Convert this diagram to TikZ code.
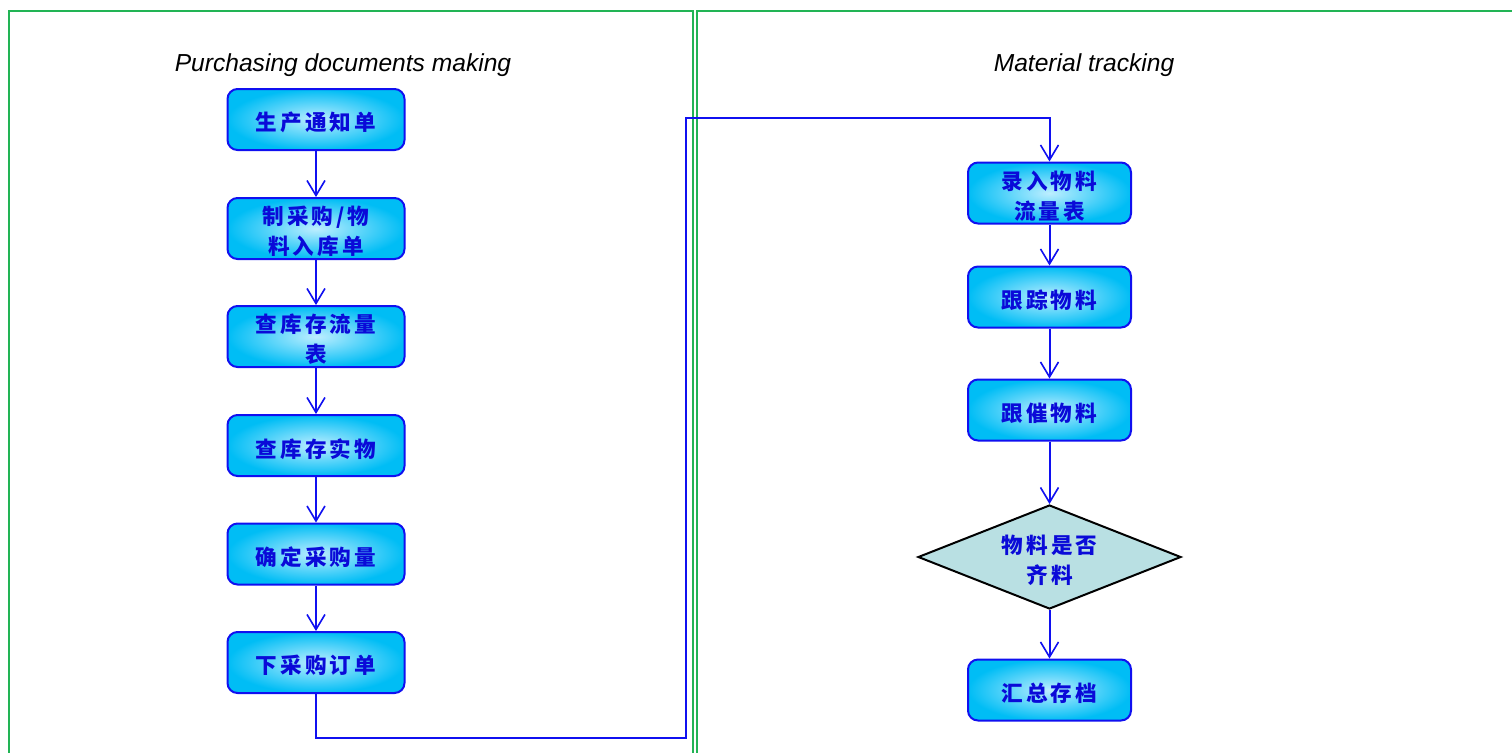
\documentclass[tikz,border=0pt]{standalone}
\usepackage{fontspec}
\setmainfont{Liberation Sans}
\newfontfamily\cjkf[LetterSpace=14]{Noto Sans CJK SC}
\usetikzlibrary{shapes.geometric,arrows.meta}
\newcommand\boxtxt[2][72pt]{\raisebox{-1.6pt}[\height][\depth]{\parbox[c]{#1}{\centering #2}}}
\definecolor{frameg}{HTML}{22B455}
\definecolor{lineb}{HTML}{1010F0}
\definecolor{txtb}{HTML}{0A0AD8}
\definecolor{boxin}{HTML}{BDEEFF}
\definecolor{boxout}{HTML}{00BDF5}
\definecolor{diafill}{HTML}{B9E0E3}
\tikzset{
  stepbox/.style={draw=lineb, line width=1pt, rounded corners=5pt, inner color=boxin, outer color=boxout,
    minimum width=88.5pt, minimum height=30.5pt, inner ysep=1.5pt, text=txtb,
    font=\cjkf\bfseries\fontsize{10.8}{15}\selectfont},
  decbox/.style={diamond, draw=black, line width=1pt, fill=diafill, aspect=2.5,
    minimum width=131.5pt, minimum height=52pt, inner sep=0pt, text=txtb,
    font=\cjkf\bfseries\fontsize{10.8}{15}\selectfont},
  flow/.style={draw=lineb, line width=1pt, -{Straight Barb[length=7.5pt,width=9pt,line width=0.8pt]}},
  frame/.style={draw=frameg, line width=1.1pt},
  ttl/.style={font=\itshape\fontsize{12.3}{14}\selectfont}
}
\begin{document}
\begin{tikzpicture}[x=0.5pt,y=-0.5pt]
\useasboundingbox (0,0) rectangle (1512,752);
% frames
\draw[frame] (9,760) -- (9,11) -- (693,11) -- (693,760);
\draw[frame] (697,760) -- (697,11) -- (1520,11);
% titles
\node[ttl] (t1) at (343,65) {Purchasing documents making};
\node[ttl] (t2) at (1084,65) {Material tracking};
% left column
\node[stepbox] (a1) at (316,119.5) {\boxtxt{生产通知单}};
\node[stepbox] (a2) at (316,228.5) {\boxtxt{制采购/物\\料入库单}};
\node[stepbox] (a3) at (316,336.5) {\boxtxt{查库存流量\\表}};
\node[stepbox] (a4) at (316,445.5) {\boxtxt{查库存实物}};
\node[stepbox] (a5) at (316,554) {\boxtxt{确定采购量}};
\node[stepbox] (a6) at (316,662.5) {\boxtxt{下采购订单}};
% right column
\node[stepbox, minimum width=81.5pt] (b1) at (1049.5,193) {\boxtxt{录入物料\\流量表}};
\node[stepbox, minimum width=81.5pt] (b2) at (1049.5,297) {\boxtxt{跟踪物料}};
\node[stepbox, minimum width=81.5pt] (b3) at (1049.5,410) {\boxtxt{跟催物料}};
\node[decbox] (d1) at (1049.5,557) {\boxtxt[52pt]{物料是否\\齐料}};
\node[stepbox, minimum width=81.5pt] (b4) at (1049.5,690) {\boxtxt{汇总存档}};
% connectors
\draw[flow] (a1) -- (a2);
\draw[flow] (a2) -- (a3);
\draw[flow] (a3) -- (a4);
\draw[flow] (a4) -- (a5);
\draw[flow] (a5) -- (a6);
\coordinate (c1) at (316,738);
\coordinate (c2) at (686,738);
\coordinate (c3) at (686,118);
\coordinate (c4) at (1049.5,118);
\draw[flow] (a6.south) -- (c1) -- (c2) -- (c3) -- (c4) -- (b1.north);
\draw[flow] (b1) -- (b2);
\draw[flow] (b2) -- (b3);
\draw[flow] (b3) -- (d1.north);
\draw[flow] (d1.south) -- (b4);
\end{tikzpicture}
\end{document}
